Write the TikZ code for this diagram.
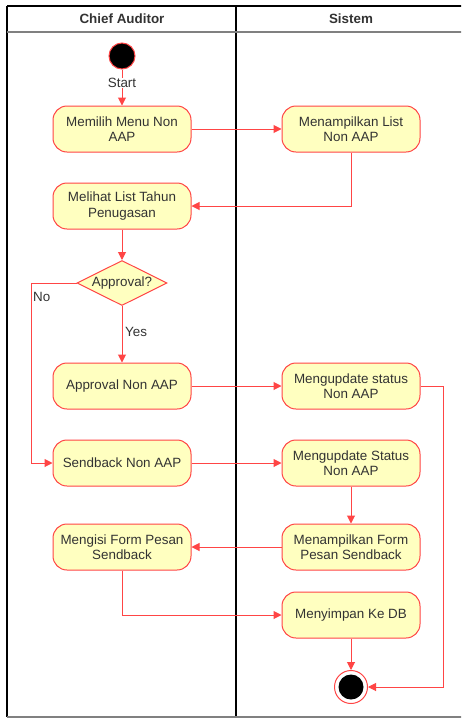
\documentclass[tikz,border=0pt]{standalone}
\usepackage{fontspec}
\setmainfont{Liberation Sans}
\usetikzlibrary{arrows.meta,shapes.geometric}
\definecolor{actfill}{HTML}{FFFFC0}
\definecolor{actline}{HTML}{FF4545}
\definecolor{txt}{HTML}{333333}
\begin{document}
\begin{tikzpicture}[x=1pt,y=-1pt,
  every node/.style={font=\fontsize{13.4}{15.5}\selectfont, text=txt},
  action/.style={draw=actline, fill=actfill, line width=1pt, rounded corners=14pt,
    minimum width=138pt, minimum height=46pt, align=center, inner sep=2pt},
  decision/.style={diamond, draw=actline, fill=actfill, line width=1pt,
    minimum width=90pt, minimum height=45pt, aspect=2, inner sep=0pt},
  flow/.style={draw=actline, line width=1pt, -{Triangle[length=8pt,width=8pt]}},
  lane/.style={draw=black, line width=1.2pt},
  laneedge/.style={draw=gray, line width=1.4pt},
  header/.style={font=\fontsize{13.4}{15.5}\selectfont\bfseries, text=txt},
  guard/.style={anchor=west, inner sep=0pt}]
\clip (0,0) rectangle (461,718);
\fill[white] (0,0) rectangle (461,718);

% swimlane frame
\draw[lane] (7,6) -- (470,6);
\draw[lane] (7,6) -- (7,717);
\draw[lane] (236,6) -- (236,717);
\draw[laneedge] (7,32) -- (470,32);
\draw[laneedge] (7,717) -- (470,717);
\node[header] (h1) at (122,19) {Chief Auditor};
\node[header] (h2) at (351,19) {Sistem};

% initial and final states
\node[circle, fill=black, draw=actline, line width=1pt, minimum size=26pt, inner sep=0pt] (start) at (122,56) {};
\node[circle, fill=white, draw=actline, line width=1pt, minimum size=33pt, inner sep=0pt] (end) at (351,687) {};
\node[circle, fill=black, minimum size=25pt, inner sep=0pt] (endcore) at (351,687) {};

% actions
\node[action] (pilih)   at (122,129) {Memilih Menu Non\\AAP};
\node[action] (tampil)  at (351,129) {Menampilkan List\\Non AAP};
\node[action] (lihat)   at (122,206) {Melihat List Tahun\\Penugasan};
\node[decision] (cek)   at (122,283) {Approval?};
\node[action] (approve) at (122,386) {Approval Non AAP};
\node[action] (upd1)    at (351,386) {Mengupdate status\\Non AAP};
\node[action] (sendb)   at (122,463) {Sendback Non AAP};
\node[action] (upd2)    at (351,463) {Mengupdate Status\\Non AAP};
\node[action] (form)    at (351,547) {Menampilkan Form\\Pesan Sendback};
\node[action] (isi)     at (122,547) {Mengisi Form Pesan\\Sendback};
\node[action] (simpan)  at (351,615) {Menyimpan Ke DB};

% bend points
\coordinate (nobend) at (31,283);
\coordinate (rbend) at (443,386);

% flows
\draw[flow] (start) -- (pilih);
\node[fill=white, inner sep=0.5pt] (lstart) at (122,83) {Start};
\draw[flow] (pilih) -- (tampil);
\draw[flow] (tampil.south) |- (lihat.east);
\draw[flow] (lihat) -- (cek);
\draw[flow] (cek.west) -- (nobend) |- (sendb.west);
\node[guard] (lno) at (33,297) {No};
\draw[flow] (cek) -- (approve);
\node[guard] (lyes) at (125,332) {Yes};
\draw[flow] (approve) -- (upd1);
\draw[flow] (upd1.east) -- (rbend) |- (end.east);
\draw[flow] (sendb) -- (upd2);
\draw[flow] (upd2) -- (form);
\draw[flow] (form) -- (isi);
\draw[flow] (isi.south) |- (simpan.west);
\draw[flow] (simpan) -- (end);
\end{tikzpicture}
\end{document}
